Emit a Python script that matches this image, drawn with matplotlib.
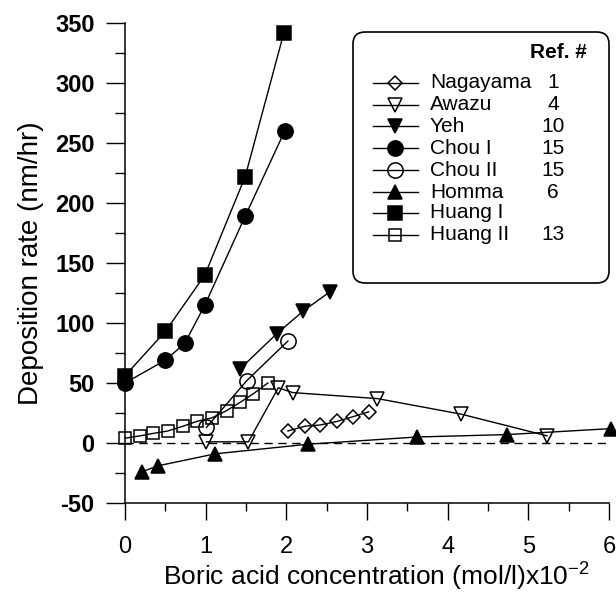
import numpy as np
import matplotlib
matplotlib.use('Agg')
import matplotlib.pyplot as plt
from matplotlib.lines import Line2D
from matplotlib.patches import FancyBboxPatch

plt.rcParams['font.family'] = ['Liberation Sans', 'DejaVu Sans']
plt.rcParams['mathtext.fontset'] = 'custom'
plt.rcParams['mathtext.rm'] = 'Liberation Sans'
plt.rcParams['mathtext.default'] = 'regular'
plt.rcParams['axes.unicode_minus'] = False

# Data (x in mol/l x 1e-2, y in nm/hr)
nagayama_x = [2.02, 2.23, 2.42, 2.63, 2.83, 3.02]
nagayama_y = [10, 14, 15, 18, 22, 26]

awazu_x = [1.01, 1.53, 1.90, 2.08, 3.13, 4.17, 5.23]
awazu_y = [1, 1, 46, 42, 37, 24, 6]

yeh_x = [1.43, 1.88, 2.21, 2.54]
yeh_y = [62, 91, 110, 126]

chou1_x = [0.0, 0.5, 0.74, 0.99, 1.49, 1.98]
chou1_y = [50, 69, 83, 115, 189, 260]

chou2_x = [1.01, 1.51, 2.02]
chou2_y = [13, 52, 85]

homma_x = [0.21, 0.41, 1.12, 2.27, 3.62, 4.73, 6.03]
homma_y = [-24, -19, -9, -1, 5, 7, 12]

huang1_x = [0.0, 0.5, 0.99, 1.49, 1.97]
huang1_y = [56, 93, 140, 222, 342]

huang2_x = [0.0, 0.19, 0.35, 0.53, 0.72, 0.89, 1.08, 1.26, 1.43, 1.59, 1.77]
huang2_y = [4, 6, 8, 10, 14, 18, 21, 27, 34, 41, 50]

labels = ['Nagayama', 'Awazu', 'Yeh', 'Chou I', 'Chou II', 'Homma', 'Huang I', 'Huang II']
refs = ['1', '4', '10', '15', '15', '6', '', '13']

# marker, filled, markersize
styles = [('D', False, 6.8), ('v', False, 9.5), ('v', True, 10.5), ('o', True, 11),
          ('o', False, 11), ('^', True, 10.5), ('s', True, 10), ('s', False, 9)]
xs = [nagayama_x, awazu_x, yeh_x, chou1_x, chou2_x, homma_x, huang1_x, huang2_x]
ys = [nagayama_y, awazu_y, yeh_y, chou1_y, chou2_y, homma_y, huang1_y, huang2_y]

W, H = 616, 593
fig = plt.figure(figsize=(W / 100, H / 100), dpi=100)
ax = fig.add_axes([125 / W, 90 / H, 484 / W, 480 / H])

ax.axhline(0, color='black', lw=1.0, ls=(0, (6, 4)), zorder=1)

for x, y, (m, filled, ms) in zip(xs, ys, styles):
    ax.plot(x, y, color='black', lw=1.0, marker=m, ms=ms,
            mfc='black' if filled else 'none', mec='black', mew=1.1,
            clip_on=False, zorder=3)

ax.set_xlim(0, 6)
ax.set_ylim(-50, 350)
ax.set_xticks(np.arange(0, 7, 1))
ax.set_xticks(np.arange(0.5, 6, 1), minor=True)
ax.set_yticks(np.arange(-50, 351, 50))
ax.set_yticks(np.arange(-25, 350, 50), minor=True)

for s in ['top', 'right']:
    ax.spines[s].set_visible(False)
for s in ['left', 'bottom']:
    ax.spines[s].set_linewidth(1.1)

ax.tick_params(axis='x', which='major', direction='out', length=12, width=1.0, pad=12, labelsize=17)
ax.tick_params(axis='x', which='minor', direction='out', length=6, width=1.0)
ax.tick_params(axis='y', which='major', direction='out', length=14, width=1.0, pad=8, labelsize=17)
ax.tick_params(axis='y', which='minor', direction='out', length=7, width=1.0)
for t in ax.get_yticklabels():
    t.set_fontweight('bold')

ax.set_xlabel('Boric acid concentration (mol/l)x10$^{-2}$', fontsize=19)
ax.xaxis.label.set_verticalalignment('baseline')
ax.xaxis.set_label_coords(0.52, -0.172)
ax.set_ylabel('Deposition rate (nm/hr)', fontsize=20)
ax.yaxis.set_label_coords(-0.168, 0.5)

# legend box (drawn in figure pixels)
def fx(px):
    return px / W

def fy(py):
    return 1 - py / H

box = FancyBboxPatch((fx(353), fy(283)), fx(609) - fx(353), fy(32) - fy(283),
                     boxstyle='round,pad=0,rounding_size=0.02', transform=fig.transFigure,
                     facecolor='white', edgecolor='black', lw=1.2, zorder=5)
fig.patches.append(box)
fig.text(fx(558), fy(53), 'Ref. #', fontsize=15, fontweight='bold', ha='center', va='center', zorder=6)

row_y = [83, 105, 126, 148, 170, 192, 213, 235]
for i, (lab, ref, (m, filled, ms)) in enumerate(zip(labels, refs, styles)):
    yy = fy(row_y[i])
    fig.add_artist(Line2D([fx(373), fx(418)], [yy, yy], color='black', lw=1.0,
                          transform=fig.transFigure, zorder=6))
    fig.add_artist(Line2D([fx(395)], [yy], marker=m, ms=ms, mfc='black' if filled else 'none',
                          mec='black', mew=1.1, transform=fig.transFigure, zorder=7))
    fig.text(fx(430), yy, lab, fontsize=15, ha='left', va='center', zorder=7)
    if ref:
        fig.text(fx(553), yy, ref, fontsize=15, ha='center', va='center', zorder=7)

fig.savefig('out.png', dpi=100)
